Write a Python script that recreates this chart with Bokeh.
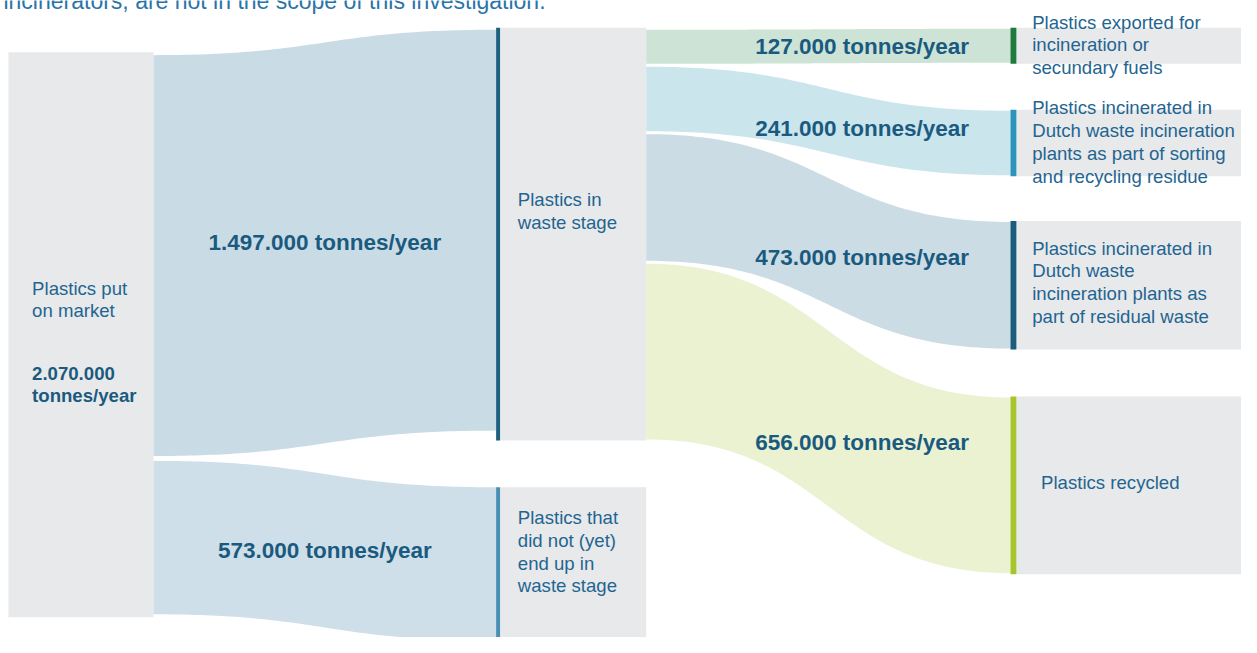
import numpy as np
from bokeh.plotting import figure
from bokeh.models import Range1d
from bokeh.embed import file_html
from bokeh.resources import INLINE
from bokeh.core.properties import value

# ---------------- data ----------------
source_label = ["Plastics put", "on market"]
source_value = 2070000

stage1_names = ["Plastics in waste stage", "Plastics that did not (yet) end up in waste stage"]
stage1_values = [1497000, 573000]
stage1_lines = [["Plastics in", "waste stage"],
                ["Plastics that", "did not (yet)", "end up in", "waste stage"]]

stage2_names = ["Exported", "Incinerated sorting residue", "Incinerated residual waste", "Recycled"]
stage2_values = [127000, 241000, 473000, 656000]
stage2_lines = [["Plastics exported for", "incineration or", "secundary fuels"],
                ["Plastics incinerated in", "Dutch waste incineration", "plants as part of sorting", "and recycling residue"],
                ["Plastics incinerated in", "Dutch waste", "incineration plants as", "part of residual waste"],
                ["Plastics recycled"]]

caption = "incinerators, are not in the scope of this investigation."

# ---------------- styles / layout ----------------
K = 0.2745 / 1000.0          # px per tonne
GRAY = "#e8e9eb"
TXT_BOLD = "#1a5a7f"
TXT_REG = "#1f6591"
FONT = value("Liberation Sans")
BOLD_SIZE = "22.5px"
REG_SIZE = "18.6px"

stage1_band_colors = ["#c9dce5", "#cfdfe9"]
stage1_bar_colors = ["#1f5f80", "#4a8fb6"]
stage2_band_colors = ["#cde3d5", "#cbe5ed", "#cbdce4", "#ebf2d2"]
stage2_bar_colors = ["#1f7a3d", "#2b94ba", "#1c5d7e", "#a8c52c"]

A_x0, A_x1, A_top = 8, 155, 53
B_x0, B_x1 = 502, 654
B_tops = [28, 499]
T_x0, T_x1 = 1023, 1257
T_tops = [29, 113, 227, 407]
BAR_W = 4
TBAR_W = 6


def fmt(v):
    return f"{v:,}".replace(",", ".") + " tonnes/year"


def band(x0, y0a, y0b, x1, y1a, y1b, n=80):
    t = np.linspace(0, 1, n)
    xm = (x0 + x1) / 2.0
    b0, b1, b2, b3 = (1 - t) ** 3, 3 * (1 - t) ** 2 * t, 3 * (1 - t) * t ** 2, t ** 3
    xs = b0 * x0 + b1 * xm + b2 * xm + b3 * x1
    ya = b0 * y0a + b1 * y0a + b2 * y1a + b3 * y1a
    yb = b0 * y0b + b1 * y0b + b2 * y1b + b3 * y1b
    return xs, ya, yb


p = figure(width=1241, height=637, output_backend="svg", toolbar_location=None,
           x_range=Range1d(0, 1257), y_range=Range1d(653, 0), min_border=0)
p.axis.visible = False
p.grid.visible = False
p.outline_line_color = None
p.background_fill_color = "white"
p.border_fill_color = "white"

# ---- source node ----
a_h = sum(stage1_values) * K + 5 + 6
p.quad(left=A_x0, right=A_x1, top=A_top, bottom=A_top + a_h, fill_color=GRAY, line_color=None)

# ---- stage 1 nodes and bands ----
y = A_top + 3
for i, v in enumerate(stage1_values):
    h = v * K
    by0 = B_tops[i] + (2 if i == 0 else 0)
    xs, ya, yb = band(A_x1, y, y + h, B_x0, by0, by0 + h)
    p.patch(np.concatenate([xs, xs[::-1]]), np.concatenate([ya, yb[::-1]]),
            fill_color=stage1_band_colors[i], line_color=None)
    lx = (A_x1 + B_x0) / 2.0
    ly = float(np.interp(lx, xs, (ya + yb) / 2.0))
    p.text(x=[lx], y=[ly], text=[fmt(v)], text_font=FONT, text_font_size=BOLD_SIZE,
           text_font_style="bold", text_align="center", text_baseline="middle",
           text_color=TXT_BOLD)
    y += h + 5

# stage-1 node boxes
node_h = [sum(stage2_values) * K + 2 + 3 * 3 + 1, stage1_values[1] * K]
for i in range(2):
    top = B_tops[i]
    bot = top + node_h[i]
    p.quad(left=B_x0 + BAR_W, right=B_x1, top=top, bottom=bot, fill_color=GRAY, line_color=None)
    p.quad(left=B_x0, right=B_x0 + BAR_W, top=top, bottom=bot,
           fill_color=stage1_bar_colors[i], line_color=None)
    lines = stage1_lines[i]
    cy = top + (188 if i == 0 else 66)
    n = len(lines)
    ys = [cy + (j - (n - 1) / 2.0) * 23.3 for j in range(n)]
    p.text(x=[B_x0 + 22] * n, y=ys, text=lines, text_font=FONT, text_font_size=REG_SIZE,
           text_align="left", text_baseline="middle", text_color=TXT_REG)

# ---- stage 2 bands and target nodes ----
y = B_tops[0] + 2
for i, v in enumerate(stage2_values):
    h = v * K
    ty = T_tops[i]
    xs, ya, yb = band(B_x1, y, y + h, T_x0, ty, ty + h)
    p.patch(np.concatenate([xs, xs[::-1]]), np.concatenate([ya, yb[::-1]]),
            fill_color=stage2_band_colors[i], line_color=None)
    lx = T_x0 - 42
    ly = float(np.interp(lx - 108, xs, (ya + yb) / 2.0))
    p.text(x=[lx], y=[ly], text=[fmt(v)], text_font=FONT, text_font_size=BOLD_SIZE,
           text_font_style="bold", text_align="right", text_baseline="middle",
           text_color=TXT_BOLD)
    # target node
    p.quad(left=T_x0 + TBAR_W, right=T_x1, top=ty - 1, bottom=ty + h + 1, fill_color=GRAY, line_color=None)
    p.quad(left=T_x0, right=T_x0 + TBAR_W, top=ty - 1, bottom=ty + h + 1,
           fill_color=stage2_bar_colors[i], line_color=None)
    lines = stage2_lines[i]
    n = len(lines)
    cy = ty + h / 2.0 - (3 if i >= 2 else 1)
    ys = [cy + (j - (n - 1) / 2.0) * 23.3 for j in range(n)]
    lx2 = 1054 if n == 1 else 1045
    p.text(x=[lx2] * n, y=ys, text=lines, text_font=FONT, text_font_size=REG_SIZE,
           text_align="left", text_baseline="middle", text_color=TXT_REG)
    y += h + 3

# ---- source node label ----
p.text(x=[32, 32], y=[295, 318], text=source_label, text_font=FONT, text_font_size=REG_SIZE,
       text_align="left", text_baseline="middle", text_color=TXT_REG)
tot = fmt(source_value).split(" ")
p.text(x=[32, 32], y=[382, 405], text=tot, text_font=FONT, text_font_size=REG_SIZE,
       text_font_style="bold", text_align="left", text_baseline="middle", text_color=TXT_BOLD)

# ---- caption, clipped at the very top as in the source image ----
p.text(x=[3], y=[1], text=[caption], text_font=FONT, text_font_size="23px",
       text_align="left", text_baseline="alphabetic", text_color="#2a74a8")

open("out.html", "w").write(file_html(p, INLINE))
